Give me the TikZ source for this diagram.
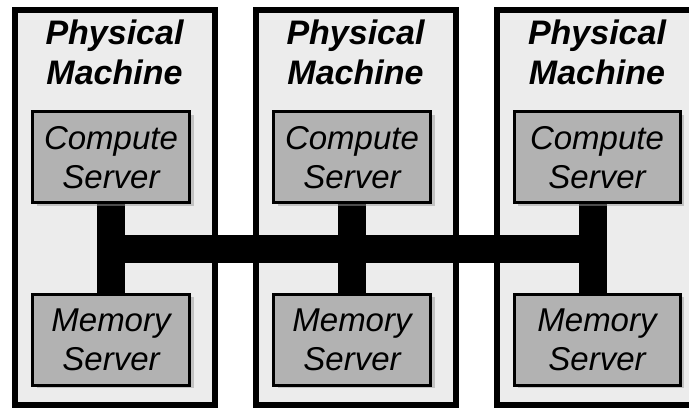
\documentclass[tikz,border=0pt]{standalone}
\usepackage{fontspec}
\setmainfont{Liberation Sans}
\usetikzlibrary{positioning, calc, shadows}
\pgfdeclarelayer{back}
\pgfdeclarelayer{mid}
\pgfsetlayers{back,mid,main}
\tikzset{
    x=1pt, y=1pt,
    machine/.style={draw, line width=6pt, fill=gray!15, minimum width=200pt, minimum height=395pt},
    title/.style={align=center, inner sep=0pt, anchor=north, font=\fontsize{34}{40}\selectfont\bfseries\itshape},
    server/.style={draw, line width=3pt, fill=black!30, minimum width=157pt, minimum height=91pt, align=center,
        font=\fontsize{33}{39}\selectfont\itshape,
        drop shadow={fill=black!40, opacity=.5, shadow xshift=4pt, shadow yshift=-3pt}},
    link/.style={line width=28pt}
}
\begin{document}
\begin{tikzpicture}
    \useasboundingbox (0,0) rectangle (689,409);
    \begin{pgfonlayer}{back}
        \node[machine] (m1) at (114.5,201.5) {};
        \node[machine] (m2) at (355.5,201.5) {};
        \node[machine] (m3) at (597,201.5) {};
    \end{pgfonlayer}
    \node[title] (t1) at (114.5,389) {Physical\\Machine};
    \node[title] (t2) at (355.5,389) {Physical\\Machine};
    \node[title] (t3) at (597,389) {Physical\\Machine};
    \node[server] (c1) at (111,251.5) {Compute\\Server};
    \node[server] (c2) at (352,251.5) {Compute\\Server};
    \node[server, minimum width=166pt] (c3) at (597,251.5) {Compute\\Server};
    \node[server] (s1) at (111,69) {Memory\\Server};
    \node[server] (s2) at (352,69) {Memory\\Server};
    \node[server, minimum width=166pt] (s3) at (597,69) {Memory\\Server};
    \begin{pgfonlayer}{mid}
        \draw[link] (c1.south) -- (s1.north)
            (c2.south) -- (s2.north)
            ([xshift=-4pt]c3.south) -- ([xshift=-4pt]s3.north);
        \draw[link, line cap=rect] ($(c1.south)!.5!(s1.north)$) -- ($([xshift=-4pt]c3.south)!.5!([xshift=-4pt]s3.north)$);
    \end{pgfonlayer}
\end{tikzpicture}
\end{document}
